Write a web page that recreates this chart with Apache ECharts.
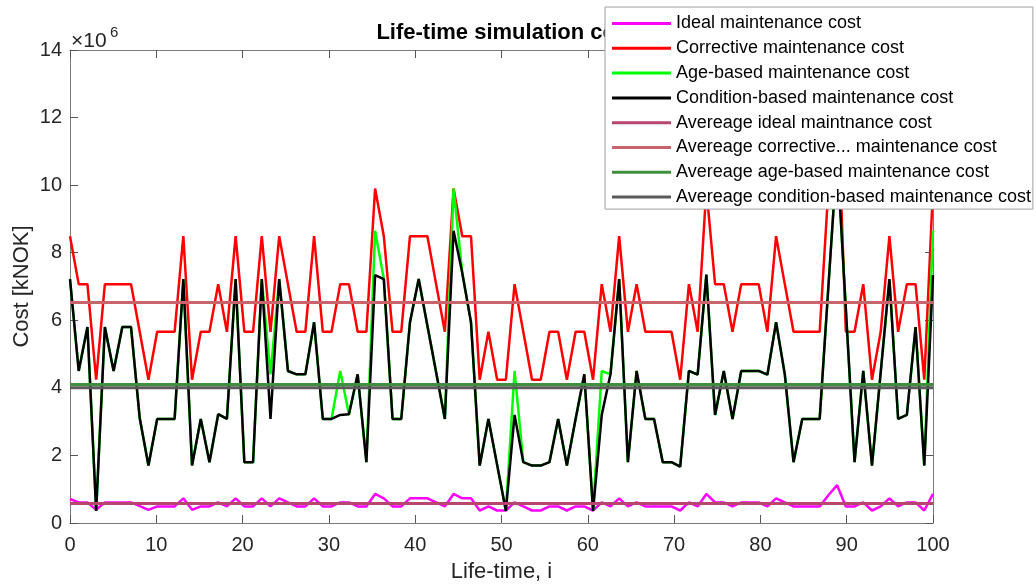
<!DOCTYPE html>
<html><head><meta charset="utf-8">
<script src="https://cdn.jsdelivr.net/npm/echarts@6/dist/echarts.min.js"></script>
<style>html,body{margin:0;padding:0;background:#fff}#c{width:1036px;height:587px}</style>
</head><body><div id="c"></div>
<script>
// Values in units of 10^6 kNOK, one per simulated life-time sample (100 samples over 0..100)
const idealCost = [0.71,0.61,0.61,0.39,0.61,0.61,0.61,0.61,0.50,0.39,
 0.49,0.49,0.49,0.73,0.39,0.49,0.49,0.61,0.49,0.73,
 0.49,0.49,0.73,0.49,0.73,0.61,0.49,0.49,0.73,0.49,
 0.49,0.61,0.61,0.49,0.49,0.86,0.73,0.49,0.49,0.73,
 0.73,0.73,0.61,0.49,0.86,0.73,0.73,0.37,0.49,0.37,
 0.37,0.61,0.49,0.37,0.37,0.49,0.49,0.37,0.49,0.49,
 0.37,0.61,0.49,0.73,0.49,0.61,0.49,0.49,0.49,0.49,
 0.37,0.61,0.49,0.86,0.61,0.61,0.49,0.61,0.61,0.61,
 0.49,0.73,0.61,0.49,0.49,0.49,0.49,0.82,1.12,0.49,
 0.49,0.61,0.37,0.49,0.73,0.49,0.61,0.61,0.37,0.86];
const correctiveCost = [8.49,7.07,7.07,4.24,7.07,7.07,7.07,7.07,5.66,4.24,
 5.66,5.66,5.66,8.49,4.24,5.66,5.66,7.07,5.66,8.49,
 5.66,5.66,8.49,5.66,8.49,7.07,5.66,5.66,8.49,5.66,
 5.66,7.07,7.07,5.66,5.66,9.90,8.49,5.66,5.66,8.49,
 8.49,8.49,7.07,5.66,9.90,8.49,8.49,4.24,5.66,4.24,
 4.24,7.07,5.66,4.24,4.24,5.66,5.66,4.24,5.66,5.66,
 4.24,7.07,5.66,8.49,5.66,7.07,5.66,5.66,5.66,5.66,
 4.24,7.07,5.66,9.90,7.07,7.07,5.66,7.07,7.07,7.07,
 5.66,8.49,7.07,5.66,5.66,5.66,5.66,9.90,13.0,5.66,
 5.66,7.07,4.24,5.66,8.49,5.66,7.07,7.07,4.24,9.90];
const ageBasedCost = [7.22,4.50,5.80,0.36,5.80,4.50,5.80,5.80,3.10,1.70,
 3.08,3.08,3.08,7.22,1.70,3.08,1.80,3.22,3.08,7.22,
 1.80,1.80,7.22,4.40,7.22,4.50,4.40,4.40,5.94,3.08,
 3.08,4.50,3.22,4.40,1.80,8.65,7.22,3.08,3.08,5.94,
 7.22,5.84,4.46,3.08,9.90,7.40,5.94,1.70,3.08,1.72,
 0.36,4.50,1.80,1.70,1.70,1.80,3.08,1.70,3.08,4.40,
 0.36,4.50,4.40,7.22,1.80,4.50,3.08,3.08,1.80,1.80,
 1.67,4.50,4.39,7.35,3.20,4.50,3.08,4.50,4.50,4.50,
 4.39,5.94,4.40,1.80,3.08,3.08,3.08,7.00,10.9,6.35,
 1.80,4.50,1.70,4.46,7.22,3.08,3.20,5.80,1.70,8.65];
const conditionBasedCost = [7.22,4.50,5.80,0.36,5.80,4.50,5.80,5.80,3.10,1.70,
 3.08,3.08,3.08,7.22,1.70,3.08,1.80,3.22,3.08,7.22,
 1.80,1.80,7.22,3.08,7.22,4.50,4.40,4.40,5.94,3.08,
 3.08,3.20,3.22,4.40,1.80,7.34,7.22,3.08,3.08,5.94,
 7.22,5.84,4.46,3.08,8.65,7.40,5.94,1.70,3.08,1.72,
 0.36,3.20,1.80,1.70,1.70,1.80,3.08,1.70,3.08,4.40,
 0.36,3.20,4.40,7.22,1.80,4.50,3.08,3.08,1.80,1.80,
 1.67,4.50,4.39,7.35,3.20,4.50,3.08,4.50,4.50,4.50,
 4.39,5.94,4.40,1.80,3.08,3.08,3.08,7.00,10.9,6.35,
 1.80,4.50,1.70,4.46,7.22,3.08,3.20,5.80,1.70,7.34];
const averageIdeal = 0.58;
const averageCorrective = 6.53;
const averageAgeBased = 4.10;
const averageConditionBased = 4.00;
const xRange = [0, 100];
const yRange = [0, 14];
const seriesNames = ['Ideal maintenance cost','Corrective maintenance cost','Age-based maintenance cost','Condition-based maintenance cost',
 'Avereage ideal maintnance cost','Avereage corrective... maintenance cost','Avereage age-based maintenance cost','Avereage condition-based maintenance cost'];

const n = idealCost.length;
const lifeTime = idealCost.map((_, k) => xRange[0] + k * (xRange[1] - xRange[0]) / (n - 1));
const pts = arr => arr.map((v, k) => [lifeTime[k], v]);
const flat = v => [[xRange[0], v], [xRange[1], v]];

const FONT = '"Liberation Sans", Arial, Helvetica, sans-serif';
const AX = '#262626';
const lineSer = (name, data, color, width) => ({
  name, type: 'line', data, symbol: 'none', showSymbol: false, animation: false,
  lineStyle: {color, width}, itemStyle: {color}, z: 2
});

const chart = echarts.init(document.getElementById('c'), null, {renderer: 'canvas'});
const axisCommon = {
  type: 'value', min: 0, splitLine: {show: false},
  axisLine: {show: true, onZero: false, lineStyle: {color: '#7a7a7a', width: 1}},
  axisTick: {show: true, inside: true, length: 8, lineStyle: {color: '#555', width: 1}}
};
chart.setOption({
  backgroundColor: '#fff',
  animation: false,
  textStyle: {fontFamily: FONT},
  title: {
    text: 'Life-time simulation cost', left: 501, top: 17, textAlign: 'center', z: 1,
    textStyle: {fontFamily: FONT, fontSize: 22, fontWeight: 'bold', color: '#000'}
  },
  grid: {left: 70, right: 103, top: 50, bottom: 64, containLabel: false, outerBoundsMode: 'none'},
  xAxis: [
    Object.assign({}, axisCommon, {min: xRange[0], max: xRange[1], interval: 10, position: 'bottom',
      axisLabel: {color: AX, fontSize: 20, margin: 12, fontFamily: FONT},
      name: 'Life-time, i', nameLocation: 'middle', nameGap: 38,
      nameTextStyle: {color: AX, fontSize: 22, fontFamily: FONT}}),
    Object.assign({}, axisCommon, {min: xRange[0], max: xRange[1], interval: 10, position: 'top',
      axisLabel: {show: false}})
  ],
  yAxis: [
    Object.assign({}, axisCommon, {min: yRange[0], max: yRange[1], interval: 2, position: 'left',
      axisLabel: {color: AX, fontSize: 20, margin: 8, fontFamily: FONT},
      name: 'Cost [kNOK]', nameLocation: 'middle', nameGap: 37, nameRotate: 90, nameMoveOverlap: false,
      nameTextStyle: {color: AX, fontSize: 22, fontFamily: FONT}}),
    Object.assign({}, axisCommon, {min: yRange[0], max: yRange[1], interval: 2, position: 'right',
      axisLabel: {show: false}})
  ],
  legend: {
    orient: 'vertical', left: 605, top: 7, z: 10,
    padding: [7.5, 2, 3, 7], itemGap: 6.8, itemWidth: 59, itemHeight: 3, icon: 'rect',
    backgroundColor: '#fff', borderColor: '#a0a0a0', borderWidth: 1,
    textStyle: {fontFamily: FONT, fontSize: 18, color: '#000'},
    data: seriesNames
  },
  graphic: [
    {type: 'text', left: 71, top: 31, z: 5, style: {text: '×10', font: '21px ' + FONT, fill: AX}},
    {type: 'text', left: 110, top: 25, z: 5, style: {text: '6', font: '15px ' + FONT, fill: AX}}
  ],
  series: [
    lineSer(seriesNames[0], pts(idealCost), '#ff00ff', 2.5),
    lineSer(seriesNames[1], pts(correctiveCost), '#ff0000', 2.5),
    lineSer(seriesNames[2], pts(ageBasedCost), '#00ff00', 2.5),
    lineSer(seriesNames[3], pts(conditionBasedCost), '#000000', 2.5),
    lineSer(seriesNames[4], flat(averageIdeal), '#b8456e', 3),
    lineSer(seriesNames[5], flat(averageCorrective), '#c9636c', 3),
    lineSer(seriesNames[6], flat(averageAgeBased), '#3f8f3f', 3),
    lineSer(seriesNames[7], flat(averageConditionBased), '#5a5a5a', 3)
  ]
});
</script></body></html>
